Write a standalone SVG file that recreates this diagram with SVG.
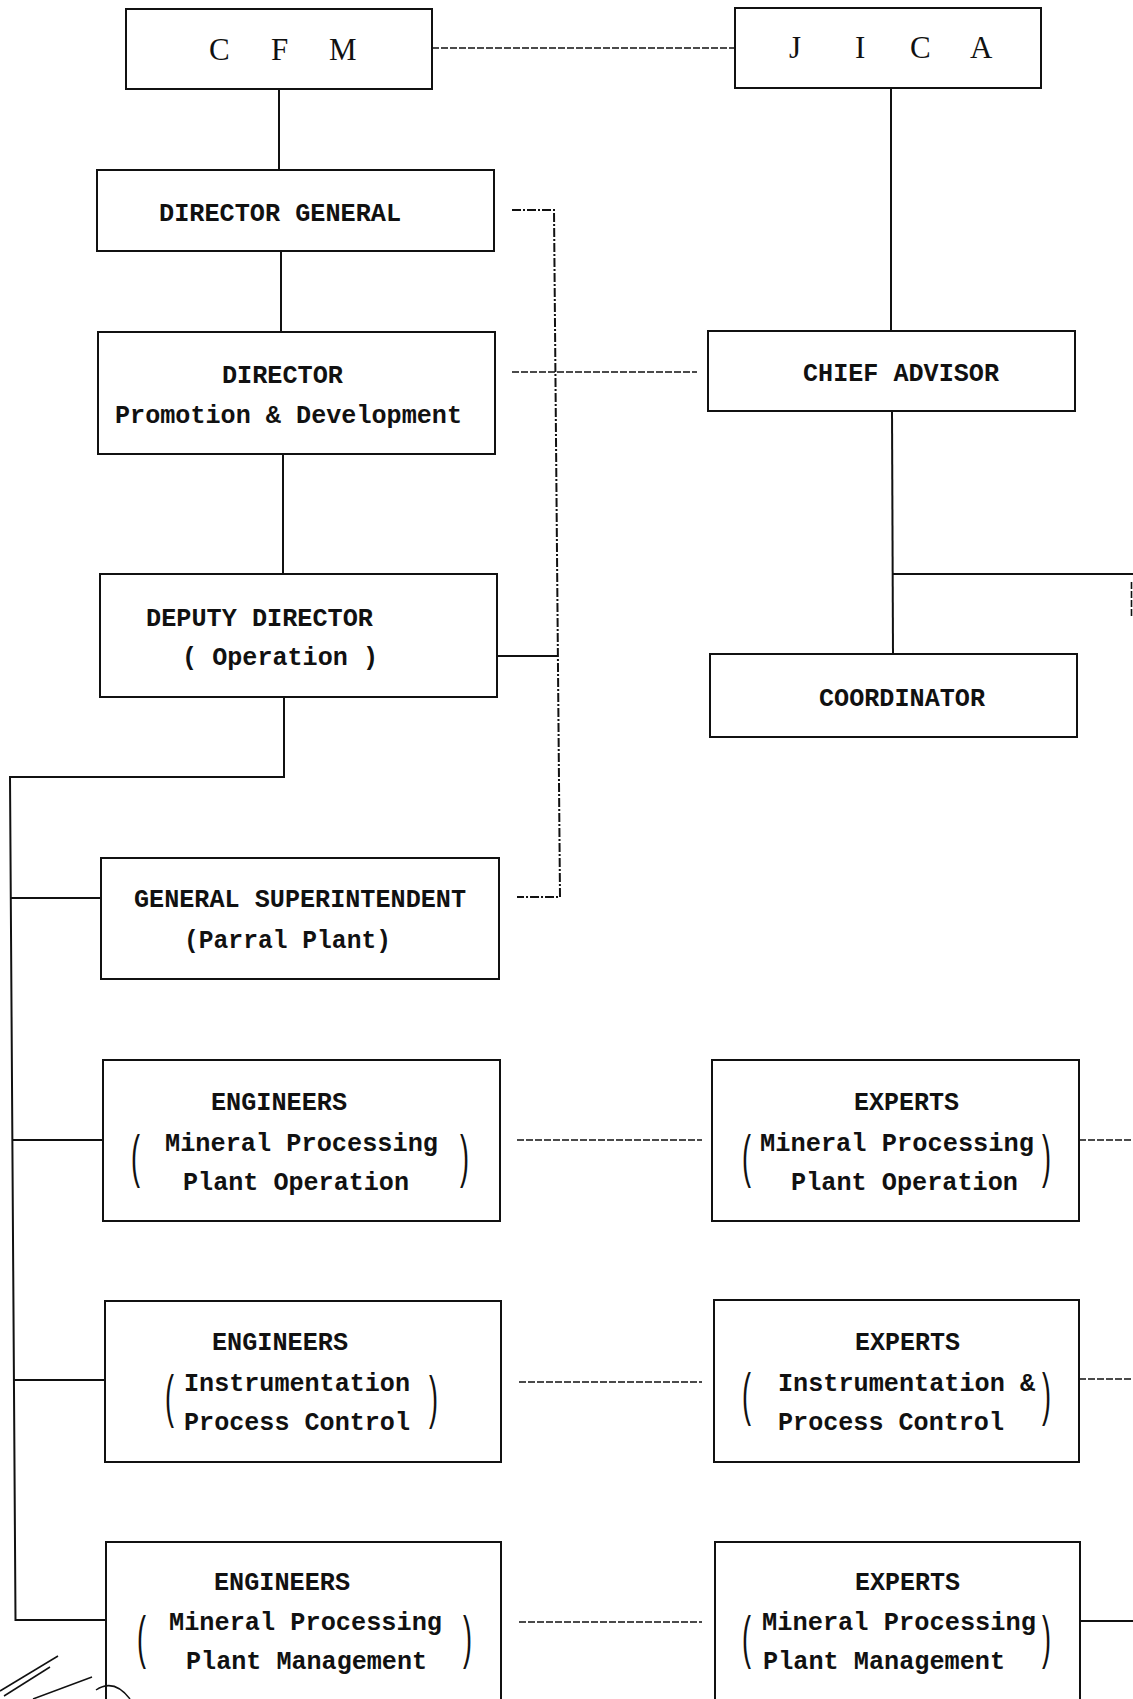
<svg xmlns="http://www.w3.org/2000/svg" width="1133" height="1699" viewBox="0 0 1133 1699">
<style>
.box{fill:#fff;stroke:#111;stroke-width:2}
.ln{fill:none;stroke:#111;stroke-width:2}
.dl{fill:none;stroke:#111;stroke-width:1.6;stroke-dasharray:7 2}
.dd{fill:none;stroke:#111;stroke-width:2;stroke-dasharray:9 2 2 2}
.t{font-family:"Liberation Mono","DejaVu Sans Mono",monospace;font-size:26px;font-weight:bold;fill:#111}
.big{font-family:"Liberation Serif","DejaVu Serif",serif;font-size:31px;fill:#111}
.br{font-family:"Liberation Sans","DejaVu Sans",sans-serif;font-size:58px;fill:#111}
.sc{fill:none;stroke:#111;stroke-width:1.5}
</style>
<rect width="1133" height="1699" fill="#fff"/>
<g id="connectors">
<path class="ln" d="M279,89 V170"/>
<path class="ln" d="M281,251 V332"/>
<path class="ln" d="M283,454 V574"/>
<path class="ln" d="M284,697 V777 H10 L15.5,1620 H106"/>
<path class="ln" d="M10.8,898 H101"/>
<path class="ln" d="M12.4,1140 H103"/>
<path class="ln" d="M13.9,1380 H105"/>
<path class="ln" d="M497,656 H557"/>
<path class="ln" d="M891,88 V331"/>
<path class="ln" d="M892,411 L893,654"/>
<path class="ln" d="M893,574 H1133"/>
<path class="ln" d="M1080,1621 H1133"/>
<path class="dl" d="M432,48 H735"/>
<path class="dd" d="M512,210 H554 L560,897 H517"/>
<path class="dl" d="M512,372 H697"/>
<path class="dl" d="M517,1140 H702"/>
<path class="dl" d="M519,1382 H702"/>
<path class="dl" d="M519,1622 H702"/>
<path class="dl" d="M1079,1140 H1133"/>
<path class="dl" d="M1079,1379 H1133"/>
<path class="dl" d="M1131.5,582 V618"/>
</g>
<g id="cfm">
<rect class="box" x="126" y="9" width="306" height="80"/>
<text class="big" x="209 231 271 290 329" y="60">C F M</text>
</g>
<g id="jica">
<rect class="box" x="735" y="8" width="306" height="80"/>
<text class="big" x="789 803 855 867 910 935 970" y="58">J I C A</text>
</g>
<g id="director-general">
<rect class="box" x="97" y="170" width="397" height="81"/>
<text class="t" x="159" y="221" textLength="242" lengthAdjust="spacingAndGlyphs">DIRECTOR GENERAL</text>
</g>
<g id="director">
<rect class="box" x="98" y="332" width="397" height="122"/>
<text class="t" x="222" y="383" textLength="121" lengthAdjust="spacingAndGlyphs">DIRECTOR</text>
<text class="t" x="115" y="423" textLength="347" lengthAdjust="spacingAndGlyphs">Promotion &amp; Development</text>
</g>
<g id="chief-advisor">
<rect class="box" x="708" y="331" width="367" height="80"/>
<text class="t" x="803" y="381" textLength="196" lengthAdjust="spacingAndGlyphs">CHIEF ADVISOR</text>
</g>
<g id="deputy-director">
<rect class="box" x="100" y="574" width="397" height="123"/>
<text class="t" x="146" y="626" textLength="227" lengthAdjust="spacingAndGlyphs">DEPUTY DIRECTOR</text>
<text class="t" x="182" y="665" textLength="196" lengthAdjust="spacingAndGlyphs">( Operation )</text>
</g>
<g id="coordinator">
<rect class="box" x="710" y="654" width="367" height="83"/>
<text class="t" x="819" y="706" textLength="166" lengthAdjust="spacingAndGlyphs">COORDINATOR</text>
</g>
<g id="general-superintendent">
<rect class="box" x="101" y="858" width="398" height="121"/>
<text class="t" x="134" y="907" textLength="332" lengthAdjust="spacingAndGlyphs">GENERAL SUPERINTENDENT</text>
<text class="t" x="184" y="948" textLength="207" lengthAdjust="spacingAndGlyphs">(Parral Plant)</text>
</g>
<g id="engineers-operation">
<rect class="box" x="103" y="1060" width="397" height="161"/>
<text class="t" x="211" y="1110" textLength="136" lengthAdjust="spacingAndGlyphs">ENGINEERS</text>
<text class="br" x="131" y="1176" textLength="9" lengthAdjust="spacingAndGlyphs">(</text>
<text class="t" x="165" y="1151" textLength="273" lengthAdjust="spacingAndGlyphs">Mineral Processing</text>
<text class="t" x="183" y="1190" textLength="226" lengthAdjust="spacingAndGlyphs">Plant Operation</text>
<text class="br" x="460" y="1176" textLength="9" lengthAdjust="spacingAndGlyphs">)</text>
</g>
<g id="experts-operation">
<rect class="box" x="712" y="1060" width="367" height="161"/>
<text class="t" x="854" y="1110" textLength="105" lengthAdjust="spacingAndGlyphs">EXPERTS</text>
<text class="br" x="742" y="1176" textLength="9" lengthAdjust="spacingAndGlyphs">(</text>
<text class="t" x="760" y="1151" textLength="274" lengthAdjust="spacingAndGlyphs">Mineral Processing</text>
<text class="t" x="791" y="1190" textLength="227" lengthAdjust="spacingAndGlyphs">Plant Operation</text>
<text class="br" x="1042" y="1176" textLength="9" lengthAdjust="spacingAndGlyphs">)</text>
</g>
<g id="engineers-instrumentation">
<rect class="box" x="105" y="1301" width="396" height="161"/>
<text class="t" x="212" y="1350" textLength="136" lengthAdjust="spacingAndGlyphs">ENGINEERS</text>
<text class="br" x="165" y="1416" textLength="9" lengthAdjust="spacingAndGlyphs">(</text>
<text class="t" x="184" y="1391" textLength="226" lengthAdjust="spacingAndGlyphs">Instrumentation</text>
<text class="t" x="184" y="1430" textLength="226" lengthAdjust="spacingAndGlyphs">Process Control</text>
<text class="br" x="429" y="1417" textLength="9" lengthAdjust="spacingAndGlyphs">)</text>
</g>
<g id="experts-instrumentation">
<rect class="box" x="714" y="1300" width="365" height="162"/>
<text class="t" x="855" y="1350" textLength="105" lengthAdjust="spacingAndGlyphs">EXPERTS</text>
<text class="br" x="742" y="1414" textLength="9" lengthAdjust="spacingAndGlyphs">(</text>
<text class="t" x="778" y="1391" textLength="257" lengthAdjust="spacingAndGlyphs">Instrumentation &amp;</text>
<text class="t" x="778" y="1430" textLength="226" lengthAdjust="spacingAndGlyphs">Process Control</text>
<text class="br" x="1042" y="1414" textLength="9" lengthAdjust="spacingAndGlyphs">)</text>
</g>
<g id="engineers-management">
<rect class="box" x="106" y="1542" width="395" height="170"/>
<text class="t" x="214" y="1590" textLength="136" lengthAdjust="spacingAndGlyphs">ENGINEERS</text>
<text class="br" x="137" y="1657" textLength="9" lengthAdjust="spacingAndGlyphs">(</text>
<text class="t" x="169" y="1630" textLength="273" lengthAdjust="spacingAndGlyphs">Mineral Processing</text>
<text class="t" x="186" y="1669" textLength="241" lengthAdjust="spacingAndGlyphs">Plant Management</text>
<text class="br" x="463" y="1657" textLength="9" lengthAdjust="spacingAndGlyphs">)</text>
</g>
<g id="experts-management">
<rect class="box" x="715" y="1542" width="365" height="170"/>
<text class="t" x="855" y="1590" textLength="105" lengthAdjust="spacingAndGlyphs">EXPERTS</text>
<text class="br" x="742" y="1657" textLength="9" lengthAdjust="spacingAndGlyphs">(</text>
<text class="t" x="762" y="1630" textLength="274" lengthAdjust="spacingAndGlyphs">Mineral Processing</text>
<text class="t" x="763" y="1669" textLength="242" lengthAdjust="spacingAndGlyphs">Plant Management</text>
<text class="br" x="1042" y="1657" textLength="9" lengthAdjust="spacingAndGlyphs">)</text>
</g>
<g id="scribble">
<path class="sc" d="M0,1691 L58,1656"/>
<path class="sc" d="M4,1696 L50,1667"/>
<path class="sc" d="M33,1699 L92,1677"/>
<path class="sc" d="M96,1690 Q114,1678 130,1699"/>
</g>
</svg>
